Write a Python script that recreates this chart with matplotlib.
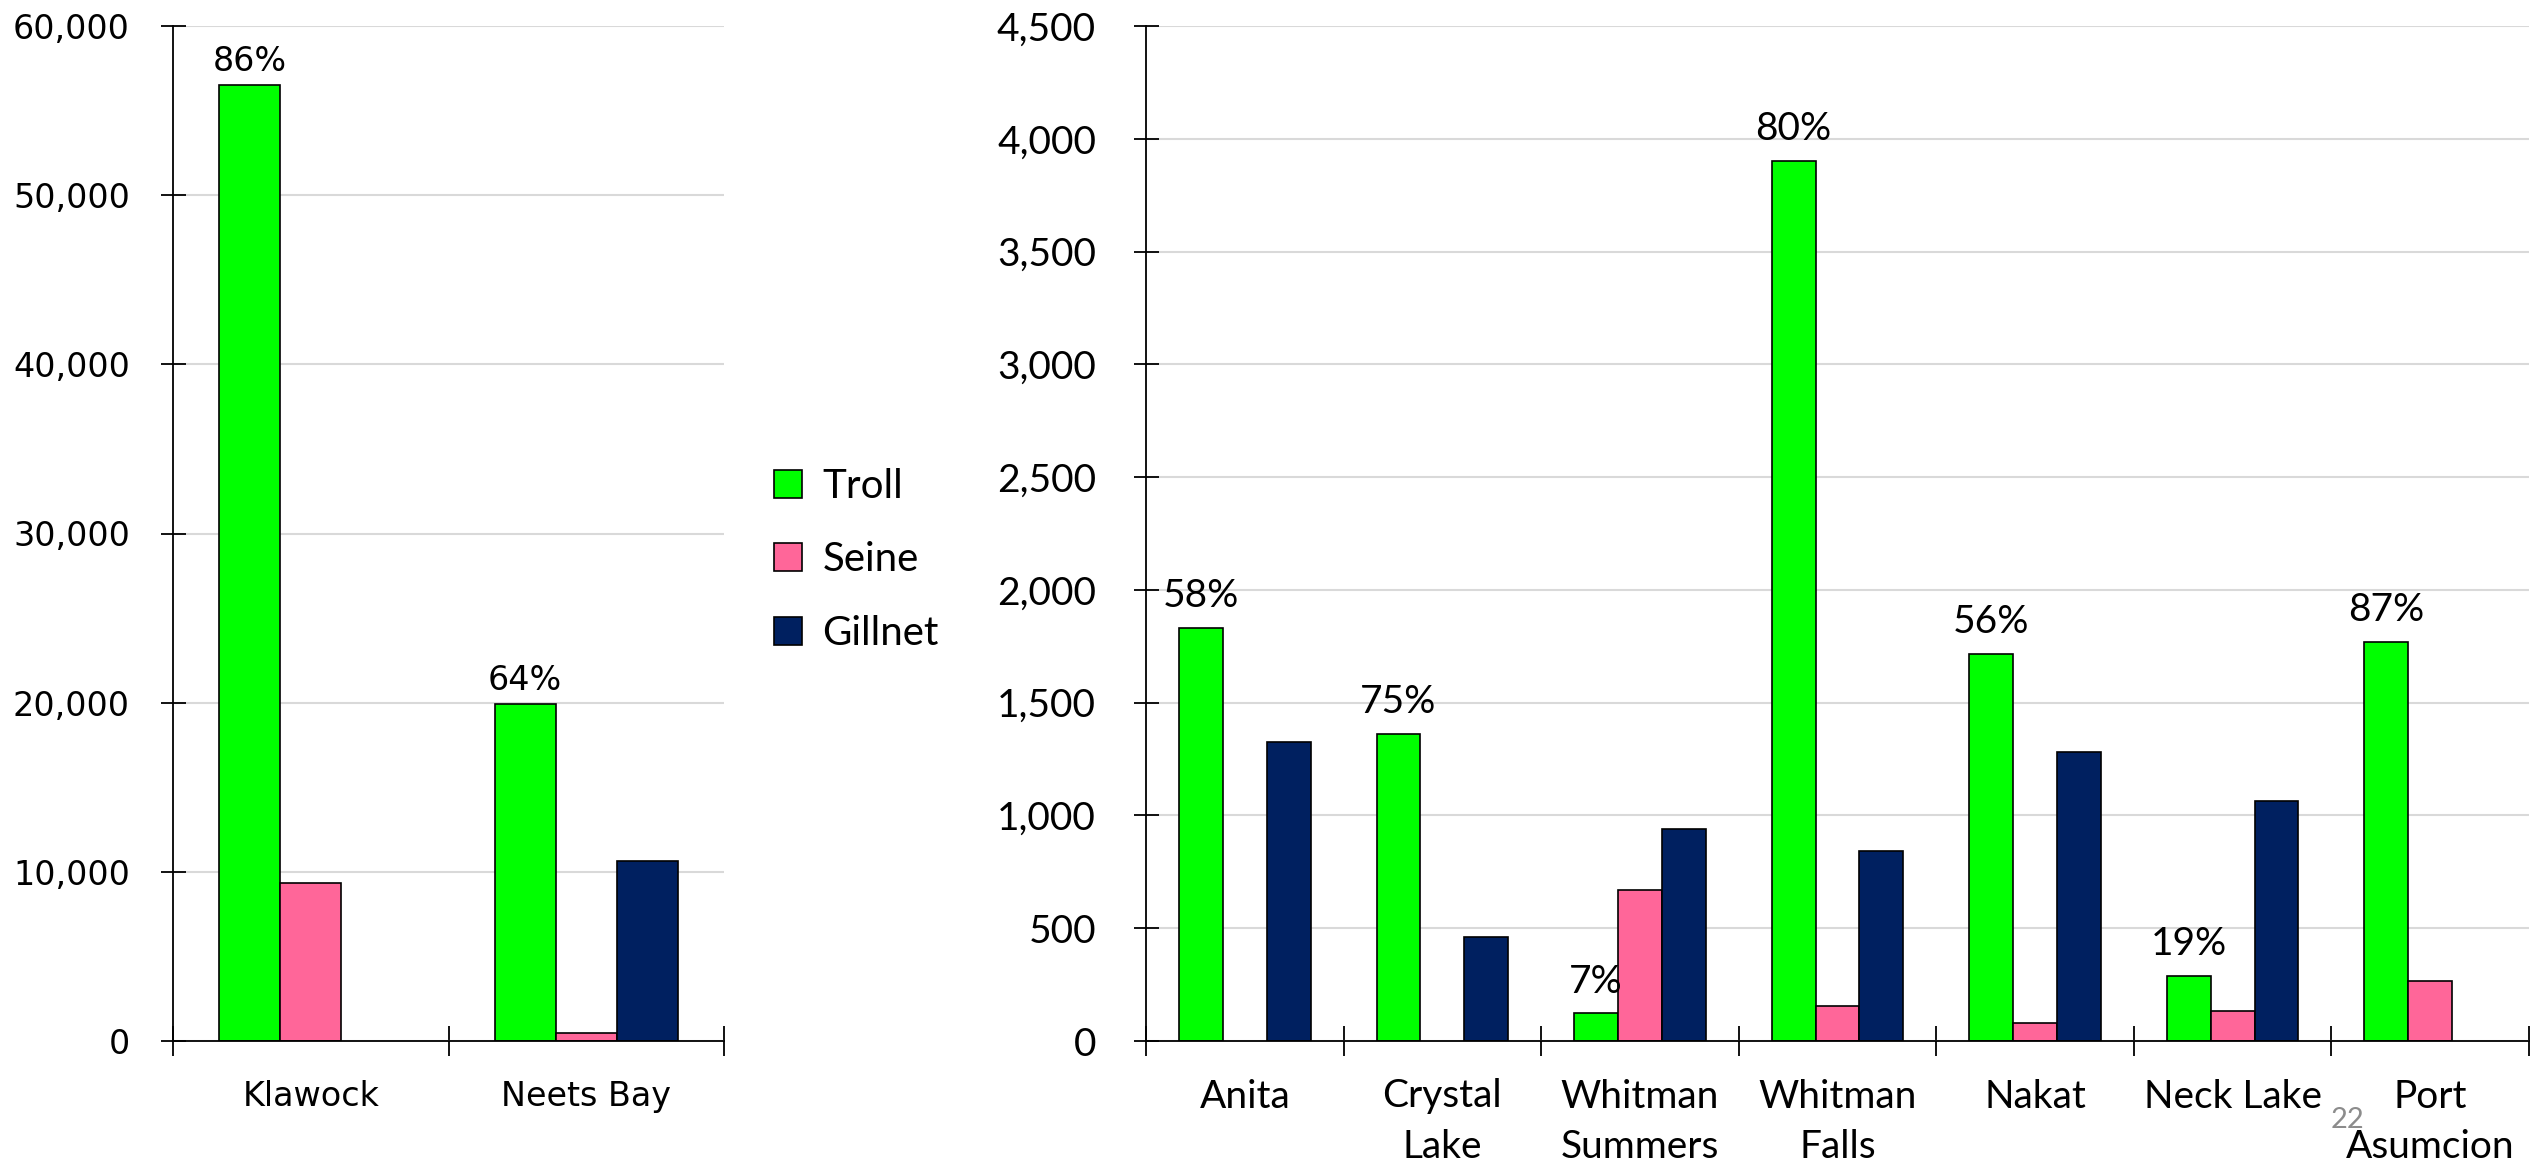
import matplotlib
matplotlib.use("Agg")
import matplotlib.pyplot as plt
import numpy as np
from matplotlib.ticker import FuncFormatter, MultipleLocator

series = ["Troll", "Seine", "Gillnet"]
colors = ["#00ff00", "#ff6699", "#002060"]

left_cats = ["Klawock", "Neets Bay"]
left_troll = [56500, 19900]
left_seine = [9350, 480]
left_gill = [0, 10620]
left_pct = ["86%", "64%"]

right_cats = ["Anita", "Crystal\nLake", "Whitman\nSummers", "Whitman\nFalls", "Nakat", "Neck Lake", "Port\nAsumcion"]
right_troll = [1830, 1362, 122, 3902, 1715, 287, 1771]
right_seine = [0, 0, 670, 155, 82, 135, 264]
right_gill = [1326, 462, 940, 841, 1283, 1062, 0]
right_pct = ["58%", "75%", "7%", "80%", "56%", "19%", "87%"]

W, H = 2539, 1166
fig = plt.figure(figsize=(W / 100, H / 100), dpi=100)

fmt = FuncFormatter(lambda v, p: f"{int(v):,}")


def draw(ax, cats, vals, pcts, ymax, step, family, fs, pfs, ypad, xpad, poff, lsp):
    n = len(cats)
    x = np.arange(n)
    bw = 0.222
    for i, (v, c) in enumerate(zip(vals, colors)):
        xs = x + (i - 1) * bw
        mask = np.array(v) > 0
        ax.bar(xs[mask], np.array(v)[mask], width=bw, color=c, edgecolor="black",
               linewidth=1.2, zorder=3)
    for xi, v, p in zip(x, vals[0], pcts):
        ax.annotate(p, (xi - bw, v), xytext=(0, poff), textcoords="offset points",
                    ha="center", va="bottom", fontsize=pfs, family=family)
    ax.set_xlim(-0.5, n - 0.5)
    ax.set_ylim(0, ymax)
    ax.yaxis.set_major_locator(MultipleLocator(step))
    ax.yaxis.set_major_formatter(fmt)
    ax.set_xticks(np.arange(-0.5, n, 1.0))
    ax.set_xticklabels([])
    ax.set_xticks(x, minor=True)
    ax.set_xticklabels(cats, minor=True, fontsize=fs, family=family, linespacing=lsp,
                       va="top")
    ax.tick_params(axis="x", which="minor", length=0, pad=xpad)
    ax.tick_params(axis="x", which="major", direction="inout", length=22, width=1.3)
    ax.tick_params(axis="y", direction="inout", length=18, width=1.3, labelsize=fs, pad=ypad)
    for lab in ax.get_yticklabels():
        lab.set_family(family)
    ax.grid(axis="y", color="#d9d9d9", linewidth=1.5, zorder=0)
    for s in ["top", "right"]:
        ax.spines[s].set_visible(False)
    for s in ["left", "bottom"]:
        ax.spines[s].set_linewidth(1.3)
        ax.spines[s].set_zorder(4)


ax1 = fig.add_axes([173 / W, 1 - 1041 / H, 551 / W, 1015 / H])
draw(ax1, left_cats, [left_troll, left_seine, left_gill], left_pct, 60000, 10000,
     "DejaVu Sans", 24, 24, 22, 28, 5, 1.2)

ax2 = fig.add_axes([1146 / W, 1 - 1041 / H, 1383 / W, 1015 / H])
draw(ax2, right_cats, [right_troll, right_seine, right_gill], right_pct, 4500, 500,
     "Lato", 28, 28, 27, 27, 10, 1.5)

handles = [plt.Rectangle((0, 0), 1, 1, facecolor=c, edgecolor="black", linewidth=1.2)
           for c in colors]
fig.legend(handles, series, loc="center left", bbox_to_anchor=(774 / W, 1 - 560 / H),
           frameon=False, borderpad=0, borderaxespad=0, prop={"family": "Lato", "size": 29},
           handlelength=0.7, handleheight=0.7, handletextpad=0.5, labelspacing=0.9)

fig.text(2348 / W, 1 - 1120 / H, "22", color="#8c8c8c", fontsize=21, family="Lato",
         ha="center", va="center")

fig.savefig("out.png", dpi=100)
